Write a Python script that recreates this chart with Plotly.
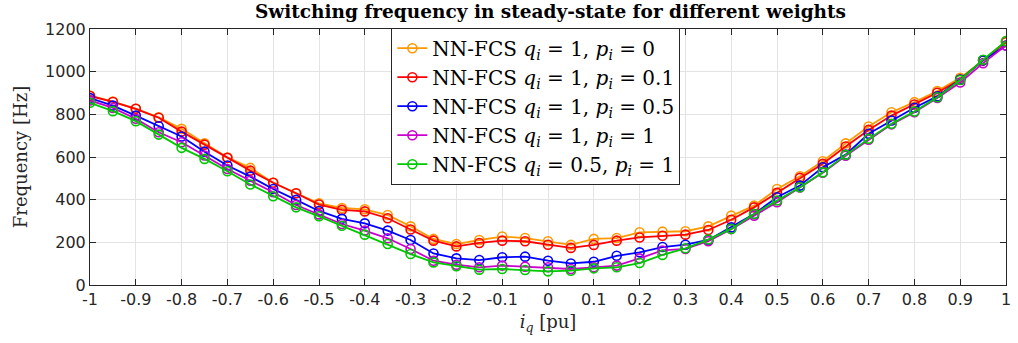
import plotly.graph_objects as go

# Current reference i_q [pu]
iq = [round(-1 + 0.05 * k, 2) for k in range(41)]

# Switching frequency [Hz] for each weight combination
f_q1_p0 = [888, 860, 826, 786, 732, 664, 598, 549, 479, 430,
           383, 361, 355, 328, 275, 216, 192, 211, 227, 220,
           205, 188, 216, 220, 247, 250, 252, 275, 325, 372,
           450, 510, 580, 664, 743, 810, 857, 909, 971, 1053, 1143]
f_q1_p01 = [886, 858, 826, 784, 719, 658, 596, 536, 479, 430,
            377, 352, 345, 313, 260, 208, 181, 197, 208, 205,
            189, 174, 188, 208, 223, 231, 236, 258, 306, 364,
            432, 502, 568, 649, 727, 794, 846, 901, 963, 1053, 1138]
f_q1_p05 = [876, 841, 794, 744, 696, 625, 560, 508, 450, 399,
            347, 310, 289, 255, 211, 148, 125, 117, 130, 133,
            114, 101, 109, 137, 153, 178, 189, 211, 270, 333,
            411, 466, 552, 611, 709, 771, 831, 884, 963, 1053, 1123]
f_q1_p1 = [865, 830, 779, 716, 669, 607, 544, 489, 435, 375,
           331, 286, 255, 219, 169, 114, 95, 83, 91, 86,
           83, 75, 83, 91, 125, 162, 169, 205, 262, 325,
           388, 457, 526, 606, 681, 753, 810, 877, 949, 1040, 1123]
f_q05_p1 = [854, 815, 768, 705, 643, 591, 533, 471, 416, 364,
            322, 278, 236, 192, 145, 106, 88, 72, 75, 70,
            64, 67, 78, 83, 103, 141, 172, 213, 263, 333,
            396, 458, 528, 610, 685, 756, 813, 880, 961, 1056, 1143]

series_names = [
    "NN-FCS <i>q<sub>i</sub></i> = 1, <i>p<sub>i</sub></i> = 0",
    "NN-FCS <i>q<sub>i</sub></i> = 1, <i>p<sub>i</sub></i> = 0.1",
    "NN-FCS <i>q<sub>i</sub></i> = 1, <i>p<sub>i</sub></i> = 0.5",
    "NN-FCS <i>q<sub>i</sub></i> = 1, <i>p<sub>i</sub></i> = 1",
    "NN-FCS <i>q<sub>i</sub></i> = 0.5, <i>p<sub>i</sub></i> = 1",
]
series_values = [f_q1_p0, f_q1_p01, f_q1_p05, f_q1_p1, f_q05_p1]
series_colors = ["#FF9900", "#FF0000", "#0000FF", "#CC00CC", "#00C800"]

x_ticks = [round(-1 + 0.1 * k, 1) for k in range(21)]
x_tick_labels = ["-1", "-0.9", "-0.8", "-0.7", "-0.6", "-0.5", "-0.4", "-0.3",
                 "-0.2", "-0.1", "0", "0.1", "0.2", "0.3", "0.4", "0.5",
                 "0.6", "0.7", "0.8", "0.9", "1"]
y_ticks = [0, 200, 400, 600, 800, 1000, 1200]

serif = "DejaVu Serif"

fig = go.Figure()
for name, vals, col in zip(series_names, series_values, series_colors):
    fig.add_trace(go.Scatter(
        x=iq, y=vals, name=name, mode="lines+markers",
        line=dict(color=col, width=1.8),
        marker=dict(symbol="circle-open", size=9, color=col,
                    line=dict(width=1.6, color=col)),
    ))

axis_common = dict(
    showgrid=True, gridcolor="#E3E3E3", gridwidth=1,
    showline=True, linecolor="#262626", linewidth=1, mirror="ticks",
    ticks="inside", ticklen=6, tickcolor="#262626",
    tickfont=dict(family="DejaVu Sans", size=16, color="#262626"),
    zeroline=False,
)

fig.update_layout(
    width=1018, height=343,
    margin=dict(l=90, r=7, t=29, b=58),
    paper_bgcolor="white", plot_bgcolor="white",
    title=dict(
        text="<b>Switching frequency in steady-state for different weights</b>",
        x=(90 + 1011) / 2 / 1018, xanchor="center", y=0.966, yanchor="middle",
        font=dict(family=serif, size=18.5, color="black"),
    ),
    xaxis=dict(
        range=[-1, 1], tickvals=x_ticks, ticktext=x_tick_labels,
        title=dict(text="<i>i<sub>q</sub></i> [pu]", standoff=7,
                   font=dict(family=serif, size=18, color="#262626")),
        **axis_common,
    ),
    yaxis=dict(
        range=[0, 1200], tickvals=y_ticks,
        title=dict(text="Frequency [Hz]", standoff=12,
                   font=dict(family=serif, size=18, color="#262626")),
        **axis_common,
    ),
    legend=dict(
        x=0.329, y=1.005, xanchor="left", yanchor="top",
        bgcolor="white", bordercolor="#262626", borderwidth=1,
        font=dict(family=serif, size=20, color="black"),
        tracegroupgap=0, itemwidth=30,
    ),
    showlegend=True,
)

fig.write_html("out.html")
